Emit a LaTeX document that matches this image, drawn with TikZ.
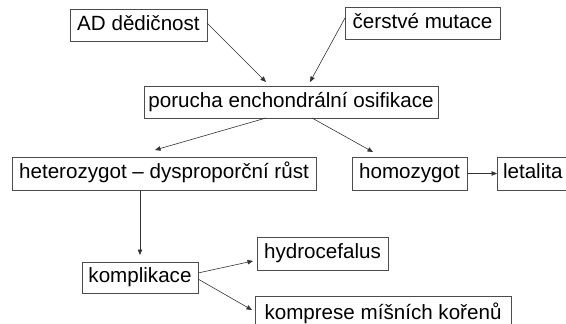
\documentclass[tikz,border=0pt]{standalone}
\usepackage{fontspec}
\setmainfont{Liberation Sans}
\usetikzlibrary{arrows.meta}
\begin{document}
\begin{tikzpicture}[x=1pt,y=-1pt,
  box/.style={draw=black!70, line width=0.8pt, inner sep=0pt, outer sep=0pt, anchor=north west,
    font=\fontsize{20.6}{24}\selectfont, text height=15pt, text depth=4.3pt},
  arr/.style={draw=black!80, line width=0.6pt, -{Triangle[length=5.5pt,width=4.5pt]}}]
\useasboundingbox (0,0) rectangle (566,324);
\clip (0,0) rectangle (566,324);
\fill[white] (0,0) rectangle (566,324);
\node[box, minimum width=137pt, minimum height=32pt] (AD) at (70,9) {AD dědičnost};
\node[box, minimum width=155pt, minimum height=32pt] (ce) at (345,7) {čerstvé mutace};
\node[box, minimum width=294pt, minimum height=32pt] (po) at (144,86) {porucha enchondrální osifikace};
\node[box, minimum width=304pt, minimum height=33pt] (het) at (12,157) {heterozygot – dysproporční růst};
\node[box, minimum width=115pt, minimum height=33pt] (hom) at (352,157) {homozygot};
\node[box, minimum height=33pt, inner xsep=6pt, text width=100pt, align=left] (let) at (497,157) {letalita};
\node[box, minimum width=116pt, minimum height=31pt] (kom) at (82,262) {komplikace};
\node[box, minimum width=131pt, minimum height=33pt] (hyd) at (257,237) {hydrocefalus};
\node[box, minimum width=256pt, minimum height=36pt] (kp) at (255,296) {komprese míšních kořenů};
\draw[arr] ([yshift=2pt]AD.east) -- ([xshift=122pt,yshift=4pt]po.north west);
\draw[arr] ([yshift=5pt]ce.west) -- ([xshift=166pt,yshift=4pt]po.north west);
\draw[arr] ([xshift=122pt]po.south west) -- ([xshift=143pt,yshift=7pt]het.north west);
\draw[arr] ([xshift=168pt]po.south west) -- ([xshift=21pt,yshift=5pt]hom.north west);
\draw[arr] (hom.east) -- (let.west);
\draw[arr] ([xshift=128pt]het.south west) -- ([xshift=58pt,yshift=7pt]kom.north west);
\draw[arr] ([yshift=4.5pt]kom.east) -- ([xshift=-4pt,yshift=-7.5pt]hyd.west);
\draw[arr] ([yshift=-1.5pt]kom.east) -- ([xshift=-3pt,yshift=-14pt]kp.north west);
\end{tikzpicture}
\end{document}
